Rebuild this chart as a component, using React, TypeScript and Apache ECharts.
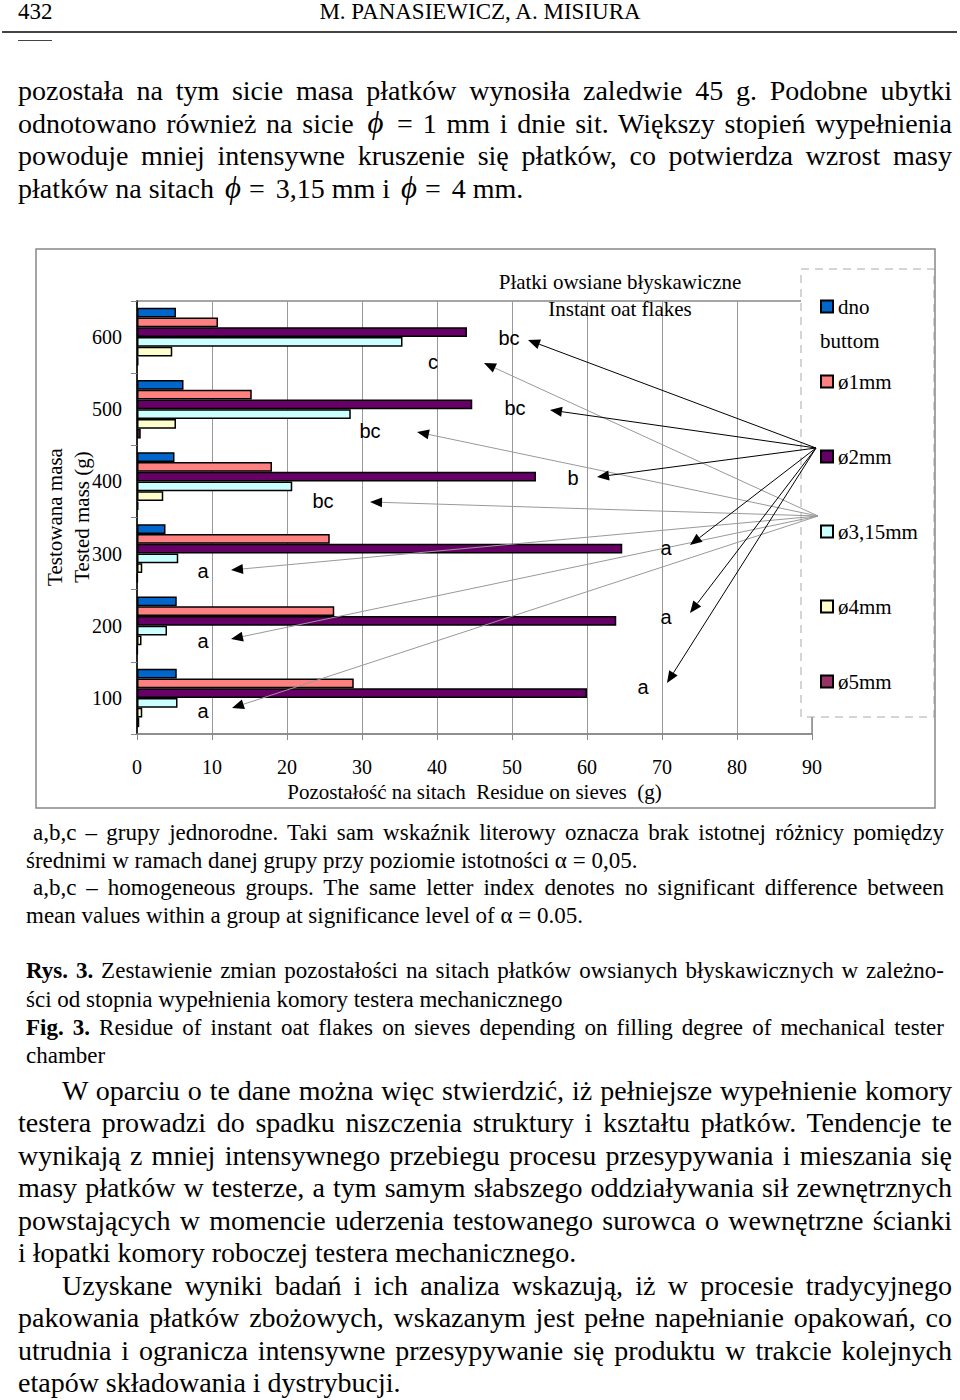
import React, { useEffect, useRef } from "react";
import * as echarts from "echarts";

// ---- data ----
const categories = ["100", "200", "300", "400", "500", "600"];
const seriesNames = ["dno", "ø1mm", "ø2mm", "ø3,15mm", "ø4mm", "ø5mm"];
const dnoValues = [5.3, 5.3, 3.8, 5.0, 6.2, 5.2];
const d1Values = [28.9, 26.3, 25.7, 18.0, 15.3, 10.8];
const d2Values = [60.0, 63.9, 64.7, 53.2, 44.7, 44.0];
const d315Values = [5.4, 4.0, 5.5, 20.7, 28.5, 35.4];
const d4Values = [0.7, 0.6, 0.7, 3.5, 5.2, 4.7];
const d5Values = [0.3, 0.1, 0.1, 0.2, 0.5, 0.2];
const seriesColors = ["#0066CC", "#FF8080", "#660066", "#CCFFFF", "#FFFFCC", "#993366"];
const xMin = 0;
const xMax = 90;
const xInterval = 10;

// group letters (page-pixel positions of annotations)
const letters: [string, number, number][] = [
  ["c", 433, 362], ["bc", 370, 431], ["bc", 323, 501],
  ["a", 203, 571], ["a", 203, 641], ["a", 203, 711],
  ["bc", 509, 338], ["bc", 515, 408], ["b", 573, 478],
  ["a", 666, 548], ["a", 666, 617], ["a", 643, 687],
];
const blackOrigin: [number, number] = [816, 448];
const blackTips: [number, number][] = [[528, 340], [550, 410], [597, 477], [690, 545], [690, 613], [667, 683]];
const grayOrigin: [number, number] = [818, 516];
const grayTips: [number, number][] = [[484, 363], [417, 432], [370, 502], [231, 570], [231, 639], [232, 708]];

const CHART_TOP = 240;
const SERIF = '"Liberation Serif", "Times New Roman", serif';
const SANS = '"Liberation Sans", Arial, sans-serif';

function arrow(o: [number, number], t: [number, number], color: string) {
  const x1 = o[0], y1 = o[1] - CHART_TOP, x2 = t[0], y2 = t[1] - CHART_TOP;
  const dx = x2 - x1, dy = y2 - y1;
  const L = Math.hypot(dx, dy);
  const ux = dx / L, uy = dy / L;
  const len = 12, hw = 5;
  const bx = x2 - ux * len, by = y2 - uy * len;
  return [
    { type: "line", z: 6, shape: { x1, y1, x2: bx, y2: by }, style: { stroke: color, lineWidth: 1 } },
    {
      type: "polygon", z: 6,
      shape: { points: [[x2, y2], [bx - uy * hw, by + ux * hw], [bx + uy * hw, by - ux * hw]] },
      style: { fill: "#000" },
    },
  ];
}

function txt(text: string, x: number, y: number, font: string, extra: any = {}, align = "center") {
  return {
    type: "text", z: 7, x, y: y - CHART_TOP, ...extra,
    style: { text, font, fill: "#000", align, verticalAlign: "middle", textAlign: align, textVerticalAlign: "middle" },
  };
}

function Chart() {
  const ref = useRef<HTMLDivElement>(null);
  useEffect(() => {
    const chart = echarts.init(ref.current!, null, { renderer: "svg" });
    const all = [dnoValues, d1Values, d2Values, d315Values, d4Values, d5Values];
    const graphics: any[] = [
      { type: "rect", z: 3, shape: { x: 801, y: 29, width: 133, height: 448 }, style: { fill: "#fff", stroke: "#aaa", lineWidth: 1, lineDash: [8, 6] } },
      { type: "rect", z: 20, shape: { x: 36, y: 9, width: 899, height: 559 }, style: { fill: "none", stroke: "#888", lineWidth: 1.5 } },
      txt("Płatki owsiane błyskawiczne", 620, 282, `21px ${SERIF}`),
      txt("Instant oat flakes", 620, 309, `21px ${SERIF}`),
      txt("buttom", 820, 341, `21px ${SERIF}`, {}, "left"),
      txt("Testowana masa", 55, 517, `21px ${SERIF}`, { rotation: Math.PI / 2 }),
      txt("Tested mass (g)", 82, 517, `21px ${SERIF}`, { rotation: Math.PI / 2 }),
      ...letters.map(([s, x, y]) => txt(s, x, y, `20px ${SANS}`)),
      ...grayTips.flatMap((t) => arrow(grayOrigin, t, "#999")),
      ...blackTips.flatMap((t) => arrow(blackOrigin, t, "#000")),
    ];
    chart.setOption({
      animation: false,
      grid: { left: 137, right: 148, top: 61, bottom: 86, show: true, borderColor: "#888", borderWidth: 1.5, backgroundColor: "transparent" },
      legend: {
        orient: "vertical", left: 820, top: 56, padding: 0, itemWidth: 12, itemHeight: 12, itemGap: 54,
        icon: "rect", z: 10,
        textStyle: { fontFamily: SERIF, fontSize: 21, color: "#000", lineHeight: 21, padding: [0, 0, 0, 0] },
        data: seriesNames,
      },
      xAxis: {
        type: "value", min: xMin, max: xMax, interval: xInterval,
        name: "Pozostałość na sitach\u00a0 Residue on sieves\u00a0 (g)", nameLocation: "middle", nameGap: 46,
        nameTextStyle: { fontFamily: SERIF, fontSize: 21, color: "#000" },
        axisLine: { show: true, lineStyle: { color: "#888", width: 1.5 } },
        axisTick: { show: true, length: 6, lineStyle: { color: "#888" } },
        axisLabel: { margin: 23, fontFamily: SERIF, fontSize: 20, color: "#000" },
        splitLine: { show: true, lineStyle: { color: "#999", width: 1 } },
      },
      yAxis: {
        type: "category", data: categories,
        axisLine: { show: true, lineStyle: { color: "#000", width: 1.5 } },
        axisTick: { show: true, length: 6, alignWithLabel: false, lineStyle: { color: "#888" } },
        axisLabel: { margin: 15, fontFamily: SERIF, fontSize: 20, color: "#000" },
        splitLine: { show: false },
      },
      series: seriesNames.map((name, i) => ({
        type: "bar", name, data: all[i],
        barGap: "0%", barCategoryGap: "19%",
        itemStyle: { color: seriesColors[i], borderColor: "#000", borderWidth: 1.5 },
      })),
      graphic: { elements: graphics },
    });
    return () => chart.dispose();
  }, []);
  return <div ref={ref} style={{ position: "absolute", left: 0, top: CHART_TOP, width: 960, height: 580 }} />;
}

type L = { x: number; y: number; w: number; s: number; lh: number; j?: boolean; c: React.ReactNode };

function Line({ x, y, w, s, lh, j, c }: L) {
  return (
    <div
      style={{
        position: "absolute", left: x, top: y - lh / 2, width: w, height: lh,
        fontSize: s, lineHeight: `${lh}px`, fontFamily: SERIF, color: "#000",
        textAlign: j ? "justify" : "left", textAlignLast: j ? "justify" : "left",
      } as any}
    >
      {c}
    </div>
  );
}

const phi = <i style={{ fontSize: "1.1em", margin: "0 4px" }}>ϕ</i>;
const eq = <span style={{ margin: "0 4px" }}>=</span>;

const B = 28; // body font
const BL = 32;
const C = 23; // caption font
const CL = 28;

export default function App() {
  const lines: L[] = [
    { x: 18, y: 91, w: 934, s: B, lh: BL, j: true, c: "pozostała na tym sicie masa płatków wynosiła zaledwie 45 g. Podobne ubytki" },
    { x: 18, y: 123, w: 934, s: B, lh: BL, j: true, c: <>odnotowano również na sicie {phi} = 1 mm i dnie sit. Większy stopień wypełnienia</> },
    { x: 18, y: 156, w: 934, s: B, lh: BL, j: true, c: "powoduje mniej intensywne kruszenie się płatków, co potwierdza wzrost masy" },
    { x: 18, y: 188, w: 934, s: B, lh: BL, c: <>płatków na sitach {phi}{eq} 3,15 mm i {phi}{eq} 4 mm.</> },

    { x: 33, y: 833, w: 911, s: C, lh: CL, j: true, c: "a,b,c – grupy jednorodne. Taki sam wskaźnik literowy oznacza brak istotnej różnicy pomiędzy" },
    { x: 26, y: 861, w: 918, s: C, lh: CL, c: "średnimi w ramach danej grupy przy poziomie istotności α = 0,05." },
    { x: 33, y: 888, w: 911, s: C, lh: CL, j: true, c: "a,b,c – homogeneous groups. The same letter index denotes no significant difference between" },
    { x: 26, y: 916, w: 918, s: C, lh: CL, c: "mean values within a group at significance level of α = 0.05." },

    { x: 26, y: 971, w: 918, s: C, lh: CL, j: true, c: <><b>Rys. 3.</b> Zestawienie zmian pozostałości na sitach płatków owsianych błyskawicznych w zależno-</> },
    { x: 26, y: 1000, w: 918, s: C, lh: CL, c: "ści od stopnia wypełnienia komory testera mechanicznego" },
    { x: 26, y: 1028, w: 918, s: C, lh: CL, j: true, c: <><b>Fig. 3.</b> Residue of instant oat flakes on sieves depending on filling degree of mechanical tester</> },
    { x: 26, y: 1056, w: 918, s: C, lh: CL, c: "chamber" },

    { x: 62, y: 1091, w: 890, s: B, lh: BL, j: true, c: "W oparciu o te dane można więc stwierdzić, iż pełniejsze wypełnienie komory" },
    { x: 18, y: 1123, w: 934, s: B, lh: BL, j: true, c: "testera prowadzi do spadku niszczenia struktury i kształtu płatków. Tendencje te" },
    { x: 18, y: 1156, w: 934, s: B, lh: BL, j: true, c: "wynikają z mniej intensywnego przebiegu procesu przesypywania i mieszania się" },
    { x: 18, y: 1188, w: 934, s: B, lh: BL, j: true, c: "masy płatków w testerze, a tym samym słabszego oddziaływania sił zewnętrznych" },
    { x: 18, y: 1221, w: 934, s: B, lh: BL, j: true, c: "powstających w momencie uderzenia testowanego surowca o wewnętrzne ścianki" },
    { x: 18, y: 1253, w: 934, s: B, lh: BL, c: "i łopatki komory roboczej testera mechanicznego." },
    { x: 62, y: 1286, w: 890, s: B, lh: BL, j: true, c: "Uzyskane wyniki badań i ich analiza wskazują, iż w procesie tradycyjnego" },
    { x: 18, y: 1318, w: 934, s: B, lh: BL, j: true, c: "pakowania płatków zbożowych, wskazanym jest pełne napełnianie opakowań, co" },
    { x: 18, y: 1351, w: 934, s: B, lh: BL, j: true, c: "utrudnia i ogranicza intensywne przesypywanie się produktu w trakcie kolejnych" },
    { x: 18, y: 1383, w: 934, s: B, lh: BL, c: "etapów składowania i dystrybucji." },
  ];
  return (
    <div style={{ position: "absolute", left: 0, top: 0, width: 960, height: 1400, background: "#fff", overflow: "hidden" }}>
      <div style={{ position: "absolute", left: 18, top: 0, fontFamily: SERIF, fontSize: 23, lineHeight: "24px" }}>432</div>
      <div style={{ position: "absolute", left: 0, top: 0, width: 960, textAlign: "center", fontFamily: SERIF, fontSize: 23, lineHeight: "24px" }}>
        M. PANASIEWICZ, A. MISIURA
      </div>
      <div style={{ position: "absolute", left: 2, top: 31, width: 955, height: 2, background: "#444" }} />
      <div style={{ position: "absolute", left: 18, top: 40, width: 34, height: 1, background: "#444" }} />
      {lines.map((l, i) => (
        <Line key={i} {...l} />
      ))}
      <Chart />
    </div>
  );
}
